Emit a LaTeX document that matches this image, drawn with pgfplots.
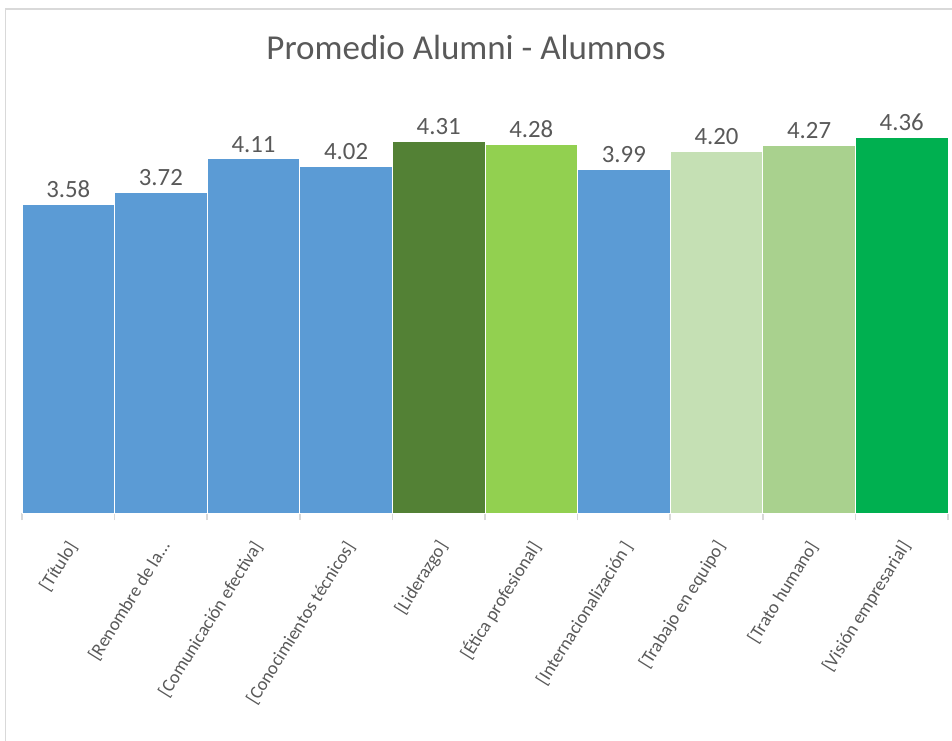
\documentclass[border=0pt]{standalone}
\usepackage{pgfplots}
\pgfplotsset{compat=1.18}
\usepackage{fontspec}
\setmainfont{Carlito}
\definecolor{cBlue}{HTML}{5B9BD5}
\definecolor{cDark}{HTML}{538135}
\definecolor{cLime}{HTML}{92D050}
\definecolor{cPale}{HTML}{C5E0B4}
\definecolor{cMid}{HTML}{A9D18E}
\definecolor{cGreen}{HTML}{00B050}
\definecolor{cText}{HTML}{595959}
\definecolor{cGrid}{HTML}{D9D9D9}
\begin{document}
\begin{tikzpicture}
\useasboundingbox (0,0) rectangle (476pt,-370pt);
\draw[cGrid, line width=0.75pt] (2.75pt,-400pt) -- (2.75pt,-4.6pt) -- (500pt,-4.6pt);
\node[anchor=base, text=cText, font=\fontsize{17.5}{20}\selectfont] at (233pt,-29.8pt) {Promedio Alumni - Alumnos};
\begin{axis}[
  at={(11pt,-256.5pt)}, anchor=south west,
  scale only axis, width=463pt, height=215.5pt,
  xmin=0.5, xmax=10.5, ymin=0, ymax=5,
  axis x line*=bottom, axis y line=none,
  x axis line style={cGrid, line width=0.75pt, -},
  xtick={1,...,10},
  xticklabels={{[Título]},{[Renombre de la…},{[Comunicación efectiva]},{[Conocimientos técnicos]},{[Liderazgo]},{[Ética profesional]},{[Internacionalización ]},{[Trabajo en equipo]},{[Trato humano]},{[Visión empresarial]}},
  major tick length=0pt,
  minor xtick={0.5,1.5,...,10.5},
  minor tick length=3.5pt,
  tick align=outside,
  minor tick style={cGrid, line width=0.75pt},
  xticklabel style={xshift=2.5pt, yshift=-15pt, rotate=58, anchor=east, inner sep=0pt, text=cText, font=\fontsize{9.2}{11}\selectfont},
  clip=false,
  /pgf/number format/assume math mode=true,
  /pgf/number format/.cd, fixed, fixed zerofill, precision=2,
  /pgfplots/.cd,
  nodes near coords,
  every node near coord/.append style={text=cText, font=\fontsize{12.4}{14}\selectfont, anchor=south, inner sep=0pt, yshift=3pt},
]
\addplot[ybar, bar shift=0pt, bar width=1, fill=cBlue, draw=white, line width=0.4pt] coordinates {(1,3.58) (2,3.72) (3,4.11) (4,4.02) (7,3.99)};
\addplot[ybar, bar shift=0pt, bar width=1, fill=cDark, draw=white, line width=0.4pt] coordinates {(5,4.31)};
\addplot[ybar, bar shift=0pt, bar width=1, fill=cLime, draw=white, line width=0.4pt] coordinates {(6,4.28)};
\addplot[ybar, bar shift=0pt, bar width=1, fill=cPale, draw=white, line width=0.4pt] coordinates {(8,4.20)};
\addplot[ybar, bar shift=0pt, bar width=1, fill=cMid, draw=white, line width=0.4pt] coordinates {(9,4.27)};
\addplot[ybar, bar shift=0pt, bar width=1, fill=cGreen, draw=white, line width=0.4pt] coordinates {(10,4.36)};
\end{axis}
\end{tikzpicture}
\end{document}
